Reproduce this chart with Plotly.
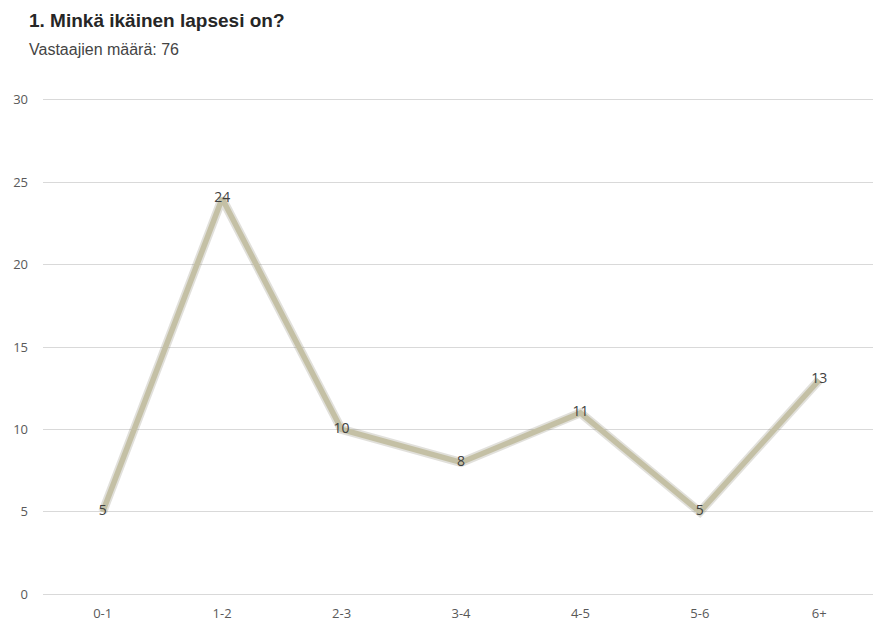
import plotly.graph_objects as go

categories = ["0-1", "1-2", "2-3", "3-4", "4-5", "5-6", "6+"]
values = [5, 24, 10, 8, 11, 5, 13]
y_ticks = [0, 5, 10, 15, 20, 25, 30]

fig = go.Figure()
# soft shadow
fig.add_trace(go.Scatter(
    x=categories, y=values, mode="lines",
    line=dict(color="rgba(120,115,90,0.22)", width=9),
    hoverinfo="skip", showlegend=False,
))
fig.add_trace(go.Scatter(
    x=categories, y=values, mode="lines+text",
    line=dict(color="#c4c0a5", width=5.5),
    text=[str(v) for v in values], textposition="middle center",
    textfont=dict(family="Open Sans", size=14, color="#404040"),
    showlegend=False,
))

PW, PH = 830, 498
fig.update_layout(
    width=873, height=624,
    margin=dict(l=43, r=0, t=98, b=28),
    paper_bgcolor="white", plot_bgcolor="white",
    annotations=[
        dict(text="<b>1. Minkä ikäinen lapsesi on?</b>", xref="paper", yref="paper",
             x=(27 - 43) / PW, y=1 + (98 - 20) / PH, xanchor="left", yanchor="middle",
             showarrow=False,
             font=dict(family="Liberation Sans", size=19, color="#262626")),
        dict(text="Vastaajien määrä: 76", xref="paper", yref="paper",
             x=(27 - 43) / PW, y=1 + (98 - 50) / PH, xanchor="left", yanchor="middle",
             showarrow=False,
             font=dict(family="Liberation Sans", size=16, color="#444444")),
    ],
    xaxis=dict(range=[-0.5, 6.45], showgrid=False, zeroline=False, showline=False,
               tickfont=dict(family="Open Sans", size=13, color="#595959"), ticks="",
               ticklabelstandoff=8, automargin=False),
    yaxis=dict(range=[-0.1, 30.1], tickvals=y_ticks, showgrid=True, gridcolor="#d9d9d9",
               gridwidth=1, zeroline=False, showline=False, ticks="",
               tickfont=dict(family="Open Sans", size=13, color="#595959"),
               ticklabelstandoff=14, automargin=False),
)

fig.write_html("out.html")
